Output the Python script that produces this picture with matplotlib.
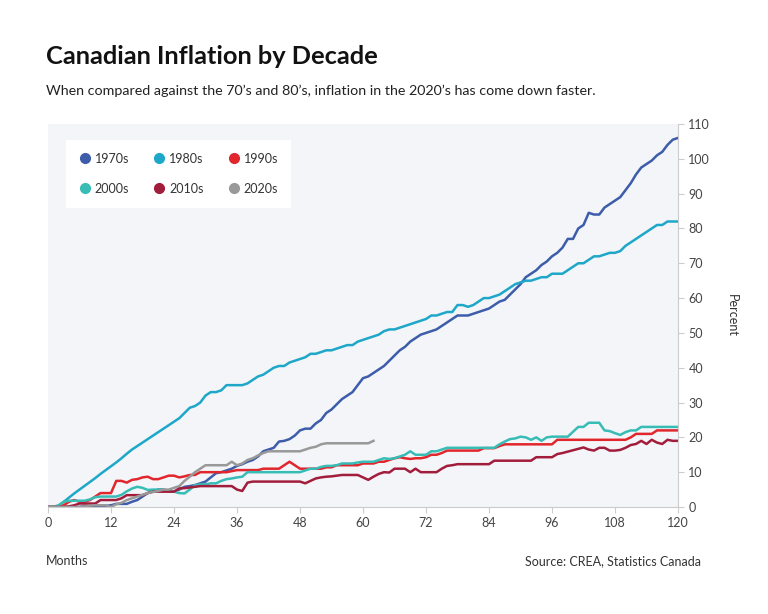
import matplotlib
matplotlib.use("Agg")
import matplotlib.pyplot as plt
from matplotlib.lines import Line2D

plt.rcParams['font.family'] = ['Lato', 'DejaVu Sans']

# cumulative inflation (%) by month since start of each decade
s1970 = [0, 0, 0, 0, 0, 0, 0, 0.3, 0.3, 0.3, 0.3, 0.3,
         0.5, 0.9, 0.9, 0.9, 1.5, 2, 3, 4, 4.5, 5, 5, 4.6,
         4.4, 5, 5.8, 6, 6.3, 6.8, 7.3, 8.5, 9.7, 10, 10.5, 11,
         11.8, 12.3, 13, 13.5, 14.5, 16, 16.5, 17, 18.8, 19, 19.5, 20.5,
         22, 22.5, 22.5, 24, 25, 27, 28, 29.5, 31, 32, 33, 35,
         37, 37.5, 38.5, 39.5, 40.5, 42, 43.5, 45, 46, 47.5, 48.5, 49.5,
         50, 50.5, 51, 52, 53, 54, 55, 55, 55, 55.5, 56, 56.5,
         57, 58, 59, 59.5, 61, 62.5, 64, 66, 67, 68, 69.5, 70.5,
         72, 73, 74.5, 77, 77, 80, 81, 84.5, 84, 84, 86, 87,
         88, 89, 91, 93, 95.5, 97.5, 98.5, 99.5, 101, 102, 104, 105.5,
         106]
s1980 = [0, 0, 0.3, 1.5, 2.7, 3.9, 5, 6.1, 7.2, 8.3, 9.5, 10.6,
         11.7, 12.8, 14, 15.3, 16.5, 17.5, 18.5, 19.5, 20.5, 21.5, 22.5, 23.5,
         24.5, 25.5, 27, 28.5, 29, 30, 32, 33, 33, 33.5, 35, 35,
         35, 35, 35.5, 36.5, 37.5, 38, 39, 40, 40.5, 40.5, 41.5, 42,
         42.5, 43, 44, 44, 44.5, 45, 45, 45.5, 46, 46.5, 46.5, 47.5,
         48, 48.5, 49, 49.5, 50.5, 51, 51, 51.5, 52, 52.5, 53, 53.5,
         54, 55, 55, 55.5, 56, 56, 58, 58, 57.5, 58, 59, 60,
         60, 60.5, 61, 62, 63, 64, 64.5, 65, 65, 65.5, 66, 66,
         67, 67, 67, 68, 69, 70, 70, 71, 72, 72, 72.5, 73,
         73, 73.5, 75, 76, 77, 78, 79, 80, 81, 81, 82, 82,
         82]
s1990 = [0, 0, 0, 0.5, 1.5, 2, 1.5, 1.5, 2, 3, 4, 4,
         4, 7.5, 7.5, 7, 7.8, 8, 8.5, 8.7, 8, 8, 8.5, 9,
         9, 8.5, 8.8, 9.2, 9.2, 10, 10, 10, 10, 10, 10, 10.3,
         10.6, 10.6, 10.6, 10.6, 10.6, 11, 11, 11, 11, 12, 13, 12,
         11, 11, 11, 11, 11, 11.4, 11.4, 12, 12, 12, 12, 12,
         12.5, 12.5, 12.5, 13, 13, 13.5, 14, 14.3, 14, 13.8, 14, 14,
         14.3, 15, 15, 15.5, 16.2, 16.2, 16.2, 16.2, 16.2, 16.2, 16.2, 16.9,
         16.9, 16.9, 17.5, 18, 18, 18, 18, 18, 18, 18, 18, 18,
         18, 19.3, 19.3, 19.3, 19.3, 19.3, 19.3, 19.3, 19.3, 19.3, 19.3, 19.3,
         19.3, 19.3, 19.3, 20, 21, 21, 21, 21, 22, 22, 22, 22,
         22]
s2000 = [0, 0, 0.5, 1.5, 1.8, 1.8, 1.8, 1.8, 2.2, 2.8, 3, 3,
         3, 3, 3.5, 4.5, 5.3, 5.8, 5.5, 4.9, 5, 5, 5, 4.5,
         4.4, 4, 3.9, 5, 6.3, 6.5, 6.5, 6.8, 6.8, 7.5, 8, 8.2,
         8.5, 8.7, 10, 10, 10, 10, 10, 10, 10, 10, 10, 10,
         10, 10.5, 11, 11, 11.5, 11.8, 11.8, 12, 12.5, 12.5, 12.5, 12.8,
         13, 13, 13, 13.5, 14, 13.8, 14, 14.5, 15, 16, 15, 15,
         15, 16, 16, 16.5, 17, 17, 17, 17, 17, 17, 17, 17,
         17, 17, 18, 18.8, 19.5, 19.7, 20.2, 20, 19.3, 20, 19, 20,
         20.2, 20.2, 20.2, 20.2, 21.6, 23, 23, 24.2, 24.2, 24.2, 22, 21.8,
         21.2, 20.7, 21.5, 22, 22, 23, 23, 23, 23, 23, 23, 23,
         23]
s2010 = [0, 0, 0, 0, 0.2, 0.5, 1, 1, 1, 1, 2, 2,
         2, 2, 2.5, 3.4, 3.4, 3.4, 3.4, 4, 4.4, 4.4, 4.4, 4.4,
         4.4, 5.4, 5.4, 5.6, 5.8, 6, 6, 6, 6, 6, 6, 6,
         5, 4.6, 7, 7.3, 7.3, 7.3, 7.3, 7.3, 7.3, 7.3, 7.3, 7.3,
         7.3, 6.8, 7.5, 8.2, 8.5, 8.7, 8.8, 9, 9.2, 9.2, 9.2, 9.2,
         8.5, 7.8, 8.7, 9.5, 10, 9.9, 11, 11, 11, 10, 11, 10,
         10, 10, 10, 11, 11.8, 12, 12.3, 12.3, 12.3, 12.3, 12.3, 12.3,
         12.3, 13.3, 13.3, 13.3, 13.3, 13.3, 13.3, 13.3, 13.3, 14.3, 14.3, 14.3,
         14.3, 15.2, 15.5, 15.9, 16.3, 16.7, 17.1, 16.5, 16.2, 17, 17, 16.2,
         16.2, 16.4, 17, 17.8, 18.1, 19, 18.1, 19.3, 18.5, 18.1, 19.3, 19,
         19]
s2020 = [0, 0, 0, 0, 0, 0, 0, 0.2, 0.4, 0.5, 0.5, 0.5,
         0, 0.8, 1.2, 2, 2.5, 3, 3.5, 4, 4.3, 4.6, 5, 5,
         5.5, 6, 7.5, 8.7, 10, 11, 12, 12, 12, 12, 12, 13,
         12, 12.5, 13.5, 14, 14.8, 15.5, 16, 16, 16, 16, 16, 16,
         16, 16.5, 17, 17.3, 18, 18.3, 18.3, 18.3, 18.3, 18.3, 18.3, 18.3,
         18.3, 18.3, 19]

decades = ['1970s', '1980s', '1990s', '2000s', '2010s', '2020s']
series = [s1970, s1980, s1990, s2000, s2010, s2020]
colors = ['#3d5caa', '#1ea7c8', '#e2262d', '#38bcb6', '#a21d3c', '#999999']

fig = plt.figure(figsize=(7.68, 6.14), dpi=100)
ax = fig.add_axes([48/768, 107/614, 630/768, 383/614])
ax.set_facecolor('#f3f5f8')

for name, vals, col in zip(decades, series, colors):
    ax.plot(range(len(vals)), vals, color=col, lw=1.8, label=name,
            solid_joinstyle='round')

ax.set_xlim(0, 120)
ax.set_ylim(0, 110)
ax.set_xticks(range(0, 121, 12))
ax.set_yticks(range(0, 111, 10))
ax.yaxis.tick_right()
ax.yaxis.set_label_position('right')
for sp in ['top', 'left']:
    ax.spines[sp].set_visible(False)
for sp in ['bottom', 'right']:
    ax.spines[sp].set_color('#cccccc')
ax.tick_params(axis='both', colors='#cccccc', labelcolor='#444444',
               labelsize=9, length=4)
ax.tick_params(axis='x', pad=3)
ax.set_ylabel('Percent', rotation=270, labelpad=20, color='#333333', fontsize=9)

# legend fills column by column, so reorder to read across rows
order = [0, 3, 1, 4, 2, 5]
handles = [Line2D([], [], marker='o', ls='', color=colors[i], markersize=7) for i in order]
labels = [decades[i] for i in order]
leg = ax.legend(handles, labels, ncol=3, loc='upper left',
                bbox_to_anchor=(0.0286, 0.958), borderaxespad=0,
                frameon=True, fancybox=False,
                fontsize=9, handletextpad=0.3, columnspacing=1.9,
                borderpad=1.0, labelspacing=1.45, handlelength=1.0)
leg.get_frame().set_facecolor('white')
leg.get_frame().set_edgecolor('white')
leg.get_frame().set_alpha(1)
for t in leg.get_texts():
    t.set_color('#333333')

fig.text(46/768, 1 - 57/614, 'Canadian Inflation by Decade', fontsize=18.3,
         fontweight='bold', va='center', ha='left', color='#111111')
fig.text(46/768, 1 - 91/614,
         'When compared against the 70\u2019s and 80\u2019s, inflation in the 2020\u2019s has come down faster.',
         fontsize=10.3, va='center', ha='left', color='#222222')
fig.text(46/768, 1 - 561/614, 'Months', fontsize=9, va='center', ha='left', color='#333333')
fig.text(701/768, 1 - 561/614, 'Source: CREA, Statistics Canada', fontsize=9,
         va='center', ha='right', color='#333333')

fig.savefig('out.png', dpi=100, facecolor='white')
